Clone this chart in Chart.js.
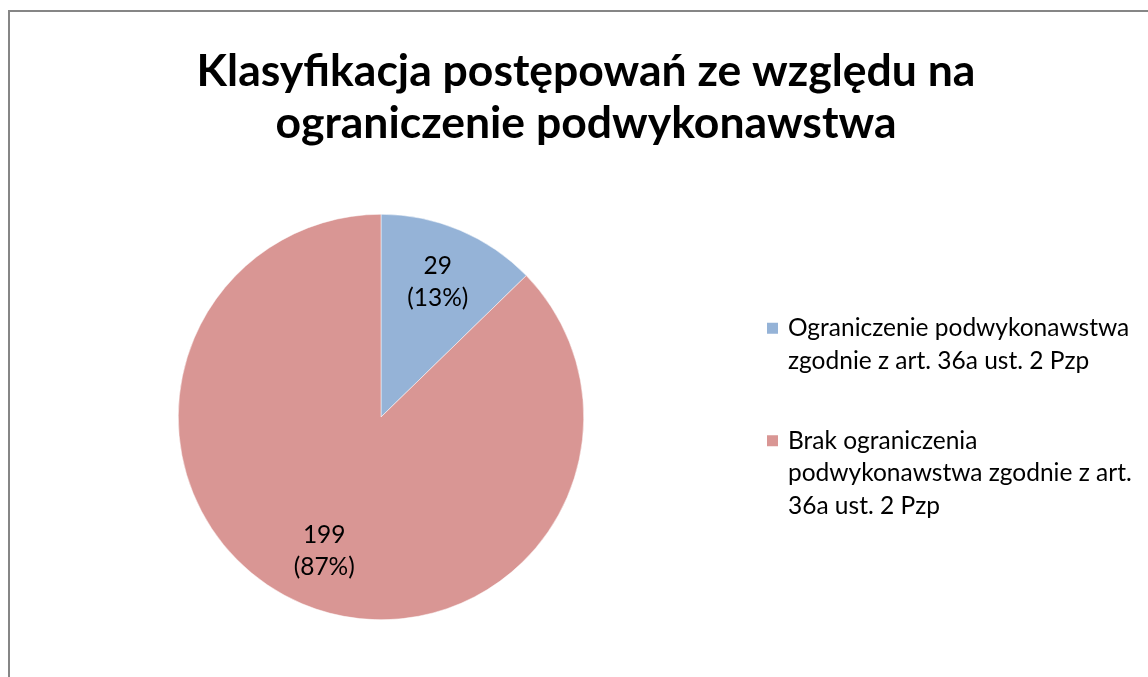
<!DOCTYPE html>
<html>
<head>
<meta charset="utf-8">
<script src="https://cdn.jsdelivr.net/npm/chart.js@4"></script>
<style>
  html, body { margin: 0; padding: 0; background: #fff; overflow: hidden; }
  #frame {
    position: absolute; left: 8px; top: 10px;
    width: 1160px; height: 700px;
    border-left: 2px solid #868686; border-top: 2px solid #868686;
  }
  #c { position: absolute; left: 10px; top: 12px; }
</style>
</head>
<body>
<div id="frame"></div>
<canvas id="c" width="1152" height="665"></canvas>
<script>
// === Data ===
const titleLines = ['Klasyfikacja postępowań ze względu na', 'ograniczenie podwykonawstwa'];
const categories = [
  ['Ograniczenie podwykonawstwa', 'zgodnie z art. 36a ust. 2 Pzp'],
  ['Brak ograniczenia', 'podwykonawstwa zgodnie z art.', '36a ust. 2 Pzp']
];
const values = [29, 199];
const colors = ['#95B3D7', '#D99694'];

const FONT = 'Lato, Carlito, Calibri, sans-serif';
const TXT_SIZE = 24.5;

// === Legend box on the right ===
const legendBox = {
  position: 'right', weight: 0, fullSize: false,
  options: { stackWeight: 1 },
  width: 0, height: 0, left: 0, top: 0, right: 0, bottom: 0,
  chart: null,
  isHorizontal(){ return false; },
  update(maxW, maxH){ this.width = 410; this.height = maxH; },
  draw(){
    const ctx = this.chart.ctx;
    const lh = 32.5, gap = 47.5;
    let total = 0;
    categories.forEach((c, i) => { total += c.length * lh + (i ? gap : 0); });
    let y = (this.top + this.bottom) / 2 - total / 2;
    ctx.save();
    ctx.font = TXT_SIZE + 'px ' + FONT;
    ctx.fillStyle = '#000';
    ctx.textBaseline = 'middle';
    ctx.textAlign = 'left';
    categories.forEach((lines, i) => {
      ctx.fillStyle = colors[i];
      ctx.fillRect(this.left + 15, y + lh / 2 - 5.5, 11, 11);
      ctx.fillStyle = '#000';
      lines.forEach((t, k) => ctx.fillText(t, this.left + 36, y + lh / 2 + k * lh));
      y += lines.length * lh + gap;
    });
    ctx.restore();
  }
};

const legendPlugin = {
  id: 'sideLegend',
  beforeInit(chart){
    legendBox.chart = chart;
    Chart.layouts.addBox(chart, legendBox);
  }
};

// === Value labels inside slices ===
const sliceLabels = {
  id: 'sliceLabels',
  afterDatasetsDraw(chart){
    const ctx = chart.ctx;
    const meta = chart.getDatasetMeta(0);
    const total = values.reduce((a, b) => a + b, 0);
    ctx.save();
    ctx.font = TXT_SIZE + 'px ' + FONT;
    ctx.fillStyle = '#000';
    ctx.textAlign = 'center';
    ctx.textBaseline = 'middle';
    meta.data.forEach((arc, i) => {
      const p = arc.getProps(['x', 'y', 'startAngle', 'endAngle', 'outerRadius'], true);
      const mid = (p.startAngle + p.endAngle) / 2;
      const r = p.outerRadius * 0.72;
      const cx = p.x + Math.cos(mid) * r;
      const cy = p.y + Math.sin(mid) * r;
      const pct = Math.round(values[i] / total * 100) + '%';
      ctx.fillText(String(values[i]), cx, cy - 16);
      ctx.fillText('(' + pct + ')', cx, cy + 16);
    });
    ctx.restore();
  }
};

new Chart(document.getElementById('c'), {
  type: 'pie',
  data: {
    labels: categories,
    datasets: [{
      data: values,
      backgroundColor: colors,
      borderColor: '#ffffff',
      borderWidth: 0.5
    }]
  },
  options: {
    responsive: false,
    animation: false,
    layout: { padding: { top: 34, bottom: 57, left: 0, right: 0 } },
    plugins: {
      legend: { display: false },
      tooltip: { enabled: false },
      title: {
        display: true,
        text: titleLines,
        color: '#000',
        font: { family: FONT, size: 44.5, weight: 'bold', lineHeight: 52 / 44.5 },
        padding: { top: 0, bottom: 64 }
      }
    }
  },
  plugins: [legendPlugin, sliceLabels]
});
</script>
</body>
</html>
